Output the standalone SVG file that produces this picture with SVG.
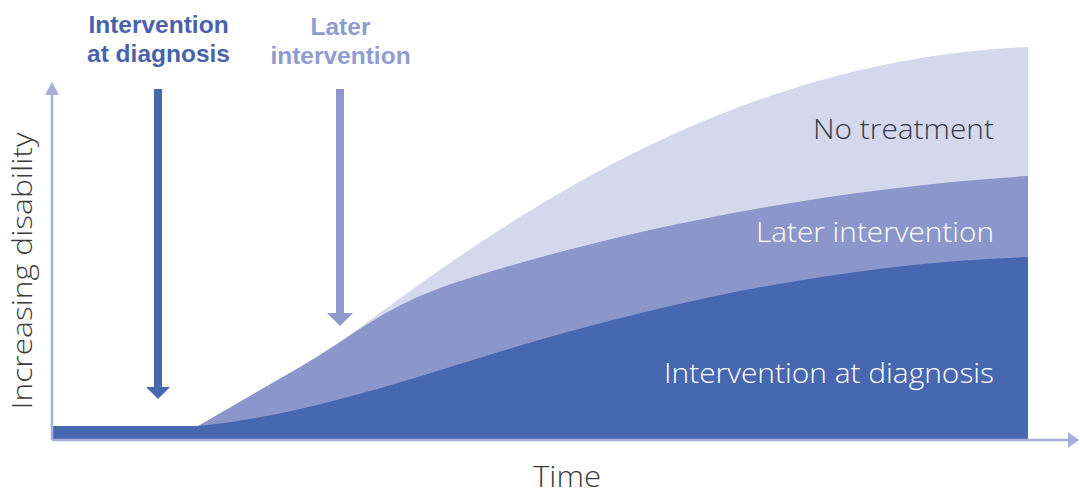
<svg xmlns="http://www.w3.org/2000/svg" width="1080" height="500" viewBox="0 0 1080 500">
  <style>
    .lbl { font-family: "Open Sans", Lato, "Liberation Sans", sans-serif; font-weight: 300; }
    .top { font-family: "Liberation Sans", Arial, sans-serif; font-weight: bold; font-size: 24.5px; text-anchor: middle; }
    .axis { stroke: #a7b0dc; stroke-width: 2.5; fill: none; }
    .axhead { fill: #a7b0dc; }
  </style>
  <rect width="1080" height="500" fill="#ffffff"/>

  <g id="area-no-treatment">
    <path d="M198,426 L330,350 C490,230 720,60 1028,47 L1028,440 L198,440 Z" fill="#d4d8ec"/>
  </g>
  <g id="area-later-intervention">
    <path d="M198,426 L300,367 C350,338 380,310 440,288 C580,240 800,190 1028,176 L1028,440 L198,440 Z" fill="#8b96cb"/>
  </g>
  <g id="area-intervention-at-diagnosis">
    <path d="M52,426 L198,426 C260,420 330,405 450,367 C600,320 800,265 1028,257 L1028,440 L52,440 Z" fill="#4767b1"/>
  </g>

  <g id="connectors">
    <line class="axis" x1="52" y1="95" x2="52" y2="440"/>
    <polygon class="axhead" points="52,82 45,95 59,95"/>
    <line class="axis" x1="52" y1="440" x2="1068" y2="440"/>
    <polygon class="axhead" points="1079,440 1068,432 1068,448"/>
    <rect x="154" y="89" width="8" height="300" fill="#4767b1"/>
    <polygon points="146,387 170,387 158,399" fill="#4767b1"/>
    <rect x="336" y="89" width="8" height="226" fill="#8d98cc"/>
    <polygon points="327,313 353,313 340,326" fill="#8d98cc"/>
  </g>

  <g id="label-intervention-at-diagnosis-top">
    <text class="top" x="158.5" y="33" fill="#4a62ad">Intervention</text>
    <text class="top" x="158.5" y="62" fill="#4a62ad">at diagnosis</text>
  </g>
  <g id="label-later-intervention-top">
    <text class="top" x="340.5" y="35" fill="#909bd0">Later</text>
    <text class="top" x="340.5" y="64" fill="#909bd0">intervention</text>
  </g>

  <g id="label-y-axis">
    <text class="lbl" x="0" y="0" font-size="28" fill="#3a3a3a" text-anchor="middle" textLength="277" lengthAdjust="spacingAndGlyphs" transform="translate(32,271) rotate(-90)">Increasing disability</text>
  </g>
  <g id="label-x-axis">
    <text class="lbl" x="567" y="487" font-size="29" fill="#3a3a3a" text-anchor="middle" textLength="68" lengthAdjust="spacingAndGlyphs">Time</text>
  </g>

  <g id="label-no-treatment">
    <text class="lbl" x="994" y="139" font-size="28" fill="#333b47" text-anchor="end" textLength="181" lengthAdjust="spacingAndGlyphs">No treatment</text>
  </g>
  <g id="label-later-intervention">
    <text class="lbl" x="994" y="242" font-size="27" fill="#ffffff" text-anchor="end" textLength="238" lengthAdjust="spacingAndGlyphs">Later intervention</text>
  </g>
  <g id="label-intervention-at-diagnosis">
    <text class="lbl" x="994" y="383" font-size="27" fill="#ffffff" text-anchor="end" textLength="330" lengthAdjust="spacingAndGlyphs">Intervention at diagnosis</text>
  </g>
</svg>
